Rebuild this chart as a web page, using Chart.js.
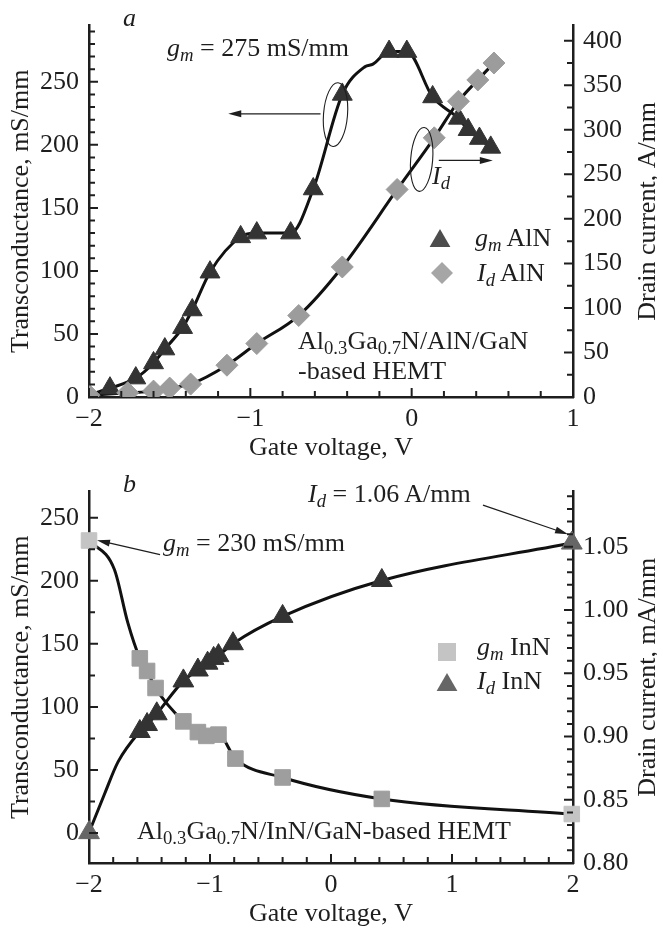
<!DOCTYPE html>
<html>
<head>
<meta charset="utf-8">
<script src="https://cdn.jsdelivr.net/npm/chart.js@4.4.0/dist/chart.umd.min.js"></script>
<style>
body { margin: 0; background: #fff; }
.panel { position: relative; width: 657px; }
#panelA { height: 466px; }
#panelB { height: 462px; }
.note { position: absolute; font-family: 'Liberation Serif', 'Times New Roman', serif; font-size: 26px;
        line-height: 26px; color: #1e1e1e; white-space: nowrap; }
.note sub { font-size: 0.72em; vertical-align: -0.28em; line-height: 0; }
</style>
</head>
<body>
<div class="panel" id="panelA">
  <canvas id="chartA" width="657" height="466"></canvas>
  <div class="note" style="left:123px; top:5px;"><i>a</i></div>
  <div class="note" style="left:167px; top:35px;"><i>g<sub>m</sub></i> = 275 mS/mm</div>
  <div class="note" style="left:432px; top:163px;"><i>I<sub>d</sub></i></div>
  <div class="note" style="left:475px; top:225px;"><i>g<sub>m</sub></i> AlN</div>
  <div class="note" style="left:477px; top:260px;"><i>I<sub>d</sub></i> AlN</div>
  <div class="note" style="left:298px; top:328px;">Al<sub>0.3</sub>Ga<sub>0.7</sub>N/AlN/GaN</div>
  <div class="note" style="left:298px; top:358px;">-based HEMT</div>
</div>
<div class="panel" id="panelB">
  <canvas id="chartB" width="657" height="462"></canvas>
  <div class="note" style="left:123px; top:5px;"><i>b</i></div>
  <div class="note" style="left:308px; top:15px;"><i>I<sub>d</sub></i> = 1.06 A/mm</div>
  <div class="note" style="left:163px; top:64px;"><i>g<sub>m</sub></i> = 230 mS/mm</div>
  <div class="note" style="left:477px; top:168px;"><i>g<sub>m</sub></i> InN</div>
  <div class="note" style="left:477px; top:202px;"><i>I<sub>d</sub></i> InN</div>
  <div class="note" style="left:137px; top:352px;">Al<sub>0.3</sub>Ga<sub>0.7</sub>N/InN/GaN-based HEMT</div>
</div>
<script>
// ---- Panel a: AlN
const aGmX = [-1.87, -1.71, -1.60, -1.53, -1.42, -1.36, -1.25, -1.06, -0.96, -0.75, -0.61, -0.43, -0.14, -0.03, 0.13, 0.29, 0.35, 0.42, 0.49];
const aGmY = [7, 15, 27, 38, 55, 69, 99, 127, 130, 130, 165, 240, 274, 274, 238, 221, 212, 205, 198];
// puntos de la curva sin marcador
const aGmCurveX = [-1.97, -0.29, -0.24];
const aGmCurveY = [3, 262, 264];
const aIdX = [-2.0, -1.76, -1.60, -1.50, -1.37, -1.145, -0.96, -0.70, -0.43, -0.09, 0.14, 0.29, 0.41, 0.51];
const aIdY = [2, 4.7, 6.6, 10, 14.5, 35.7, 60, 91.5, 146, 233, 291, 332, 356, 375];
const aXTicks = [-2, -1, 0, 1];
const aLeftTicks = [0, 50, 100, 150, 200, 250];
const aRightTicks = [0, 50, 100, 150, 200, 250, 300, 350, 400];

// ---- Panel b: InN
const bGmX = [-2.0, -1.58, -1.52, -1.45, -1.22, -1.10, -1.03, -0.93, -0.79, -0.40, 0.42, 1.99];
const bGmY = [232, 138.5, 128.5, 115, 88.5, 80, 77, 78, 59, 44, 27, 15];
const bGmCurveX = [-1.79, -1.68];
const bGmCurveY = [209, 167];
const bIdX = [-2.0, -1.58, -1.52, -1.44, -1.22, -1.10, -1.02, -0.97, -0.93, -0.81, -0.40, 0.42, 1.99];
const bIdY = [0.824, 0.904, 0.9095, 0.918, 0.944, 0.9526, 0.958, 0.9618, 0.964, 0.9734, 0.995, 1.0234, 1.053];
const bIdCurveX = [-1.87, -1.76];
const bIdCurveY = [0.855, 0.880];
const bXTicks = [-2, -1, 0, 1, 2];
const bLeftTicks = [0, 50, 100, 150, 200, 250];
const bRightTicks = [0.80, 0.85, 0.90, 0.95, 1.00, 1.05];

const SERIF = "'Liberation Serif', 'Times New Roman', serif";
const INK = '#1e1e1e';
Chart.defaults.font.family = SERIF;
Chart.defaults.font.size = 26;
Chart.defaults.color = INK;

function points(xs, ys) {
    return xs.map((x, i) => ({ x: x, y: ys[i] }));
}

function curve(xs, ys, ex, ey) {
    return points(xs, ys).concat(points(ex, ey)).sort((p, q) => p.x - q.x);
}

function fmtX(v) {
    return v < 0 ? '\u2212' + Math.abs(v) : String(v);
}

function curveDataset(data, axis) {
    return {
        data: data, yAxisID: axis, showLine: true, borderColor: '#111', borderWidth: 3,
        pointRadius: 0, cubicInterpolationMode: 'monotone', order: 2
    };
}

function markerDataset(data, axis, style, radius, color, endColor, clip) {
    return {
        data: data, yAxisID: axis, showLine: false, pointStyle: style, pointRadius: radius,
        pointBackgroundColor: c => (endColor && (c.dataIndex === 0 || c.dataIndex === data.length - 1)) ? endColor : color,
        pointBorderColor: c => (endColor && (c.dataIndex === 0 || c.dataIndex === data.length - 1)) ? endColor : color,
        pointBorderWidth: 1, clip: clip, order: 1
    };
}

// Dibuja un marcador simple (leyenda)
function marker(ctx, style, x, y, r, color) {
    ctx.save();
    ctx.fillStyle = color;
    ctx.beginPath();
    if (style === 'triangle') {
        ctx.moveTo(x, y - r);
        ctx.lineTo(x + r * 0.866, y + r * 0.5);
        ctx.lineTo(x - r * 0.866, y + r * 0.5);
    } else if (style === 'rectRot') {
        ctx.moveTo(x, y - r); ctx.lineTo(x + r, y); ctx.lineTo(x, y + r); ctx.lineTo(x - r, y);
    } else {
        ctx.rect(x - r, y - r, 2 * r, 2 * r);
    }
    ctx.closePath();
    ctx.fill();
    ctx.restore();
}

function arrow(ctx, x1, y1, x2, y2) {
    const a = Math.atan2(y2 - y1, x2 - x1);
    ctx.save();
    ctx.strokeStyle = INK; ctx.fillStyle = INK; ctx.lineWidth = 1.2;
    ctx.beginPath(); ctx.moveTo(x1, y1); ctx.lineTo(x2 - 10 * Math.cos(a), y2 - 10 * Math.sin(a)); ctx.stroke();
    ctx.beginPath();
    ctx.moveTo(x2, y2);
    ctx.lineTo(x2 - 13 * Math.cos(a) + 3.5 * Math.sin(a), y2 - 13 * Math.sin(a) - 3.5 * Math.cos(a));
    ctx.lineTo(x2 - 13 * Math.cos(a) - 3.5 * Math.sin(a), y2 - 13 * Math.sin(a) + 3.5 * Math.cos(a));
    ctx.closePath(); ctx.fill();
    ctx.restore();
}

function ellipse(ctx, x, y, rx, ry, rot) {
    ctx.save();
    ctx.strokeStyle = INK; ctx.lineWidth = 1.1;
    ctx.beginPath(); ctx.ellipse(x, y, rx, ry, rot, 0, Math.PI * 2); ctx.stroke();
    ctx.restore();
}

// Marcas hacia dentro, títulos de ejes y anotaciones
const framePlugin = {
    id: 'frame',
    afterDraw(chart, args, opts) {
        const ctx = chart.ctx;
        const area = chart.chartArea;
        const sx = chart.scales.x, sl = chart.scales.y, sr = chart.scales.y2;
        ctx.save();
        ctx.strokeStyle = INK;
        ctx.lineWidth = 2;
        function ticks(scale, step, major, draw) {
            const first = Math.ceil(scale.min / step - 1e-6);
            const last = Math.floor(scale.max / step + 1e-6);
            for (let i = first; i <= last; i++) {
                const v = i * step;
                const isMajor = Math.abs(v / major - Math.round(v / major)) < 1e-6;
                draw(scale.getPixelForValue(v), isMajor ? 9 : 6);
            }
        }
        ctx.beginPath();
        ticks(sl, opts.leftStep, opts.leftMajor, (p, len) => { ctx.moveTo(area.left, p); ctx.lineTo(area.left + len, p); });
        ticks(sr, opts.rightStep, opts.rightMajor, (p, len) => { ctx.moveTo(area.right, p); ctx.lineTo(area.right - len, p); });
        ticks(sx, 0.2, 1, (p, len) => { ctx.moveTo(p, area.bottom); ctx.lineTo(p, area.bottom - len); });
        ctx.stroke();

        // títulos
        ctx.fillStyle = INK;
        ctx.font = '26px ' + SERIF;
        ctx.textAlign = 'center';
        ctx.textBaseline = 'alphabetic';
        const midY = (area.top + area.bottom) / 2;
        ctx.fillText('Gate voltage, V', (area.left + area.right) / 2, area.bottom + 58);
        ctx.save(); ctx.translate(28, midY); ctx.rotate(-Math.PI / 2);
        ctx.fillText('Transconductance, mS/mm', 0, 0); ctx.restore();
        ctx.save(); ctx.translate(655, midY); ctx.rotate(-Math.PI / 2);
        ctx.fillText(opts.rightTitle, 0, 0); ctx.restore();
        ctx.restore();

        opts.extras(ctx, sx, sl, sr);
    }
};

function makeChart(id, height, datasets, cfg) {
    return new Chart(document.getElementById(id), {
        type: 'scatter',
        data: { datasets: datasets },
        options: {
            responsive: false,
            animation: false,
            layout: { padding: { top: 14, left: 0, right: 0, bottom: 0 } },
            plugins: {
                legend: { display: false },
                tooltip: { enabled: false },
                frame: cfg.frame
            },
            scales: {
                x: {
                    type: 'linear', min: cfg.xMin, max: cfg.xMax,
                    grid: { display: false, drawTicks: false },
                    border: { display: true, color: INK, width: 2.5 },
                    ticks: { padding: 7, callback: fmtX },
                    afterBuildTicks: s => { s.ticks = cfg.xTicks.map(v => ({ value: v })); },
                    afterFit: s => { s.height = height - 397; }
                },
                y: {
                    position: 'left', min: cfg.yMin, max: cfg.yMax,
                    grid: { display: false, drawTicks: false },
                    border: { display: true, color: INK, width: 2.5 },
                    ticks: { padding: 10 },
                    afterBuildTicks: s => { s.ticks = cfg.leftTicks.map(v => ({ value: v })); },
                    afterFit: s => { s.width = 89; }
                },
                y2: {
                    position: 'right', min: cfg.y2Min, max: cfg.y2Max,
                    grid: { display: false, drawTicks: false },
                    border: { display: true, color: INK, width: 2.5 },
                    ticks: { padding: 10, callback: cfg.rightFmt },
                    afterBuildTicks: s => { s.ticks = cfg.rightTicks.map(v => ({ value: v })); },
                    afterFit: s => { s.width = 84; }
                }
            }
        },
        plugins: [framePlugin]
    });
}

// ---- Panel a
makeChart('chartA', 466, [
    curveDataset(curve(aGmX, aGmY, aGmCurveX, aGmCurveY), 'y'),
    curveDataset(curve(aIdX, aIdY, [], []), 'y2'),
    markerDataset(points(aIdX, aIdY), 'y2', 'rectRot', 11, '#9c9c9c', null, 0),
    markerDataset(points(aGmX, aGmY), 'y', 'triangle', 11.5, '#333333', null, false)
], {
    xMin: -2, xMax: 1, yMin: 0, yMax: 294.6, y2Min: 0, y2Max: 417,
    xTicks: aXTicks, leftTicks: aLeftTicks, rightTicks: aRightTicks,
    rightFmt: v => String(v),
    frame: {
        leftStep: 10, leftMajor: 50, rightStep: 25, rightMajor: 50, rightTitle: 'Drain current, A/mm',
        extras: (ctx, sx, sl, sr) => {
            ellipse(ctx, sx.getPixelForValue(-0.472), sl.getPixelForValue(224), 12, 32, 0.08);
            arrow(ctx, sx.getPixelForValue(-0.565), sl.getPixelForValue(224.6), sx.getPixelForValue(-1.137), sl.getPixelForValue(224.6));
            ellipse(ctx, sx.getPixelForValue(0.062), sr.getPixelForValue(266.7), 11, 32, 0.08);
            arrow(ctx, sx.getPixelForValue(0.168), sr.getPixelForValue(265.6), sx.getPixelForValue(0.503), sr.getPixelForValue(265.6));
            marker(ctx, 'triangle', 440, 241, 12, '#4d4d4d');
            marker(ctx, 'rectRot', 442, 273, 11, '#a6a6a6');
        }
    }
});

// ---- Panel b
makeChart('chartB', 462, [
    curveDataset(curve(bGmX, bGmY, bGmCurveX, bGmCurveY), 'y'),
    curveDataset(curve(bIdX, bIdY, bIdCurveX, bIdCurveY), 'y2'),
    markerDataset(points(bGmX, bGmY), 'y', 'rect', 11, '#9e9e9e', '#c4c4c4', false),
    markerDataset(points(bIdX, bIdY), 'y2', 'triangle', 12, '#333333', '#666666', false)
], {
    xMin: -2, xMax: 2, yMin: -23.85, yMax: 270.8, y2Min: 0.80, y2Max: 1.0937,
    xTicks: bXTicks, leftTicks: bLeftTicks, rightTicks: bRightTicks,
    rightFmt: v => v.toFixed(2),
    frame: {
        leftStep: 25, leftMajor: 50, rightStep: 0.01, rightMajor: 0.05, rightTitle: 'Drain current, mA/mm',
        extras: (ctx, sx, sl, sr) => {
            arrow(ctx, sx.getPixelForValue(-1.413), sl.getPixelForValue(220.8), sx.getPixelForValue(-1.934), sl.getPixelForValue(232.3));
            arrow(ctx, sx.getPixelForValue(1.256), sr.getPixelForValue(1.083), sx.getPixelForValue(1.959), sr.getPixelForValue(1.060));
            marker(ctx, 'rect', 447, 186, 9, '#c4c4c4');
            marker(ctx, 'triangle', 447, 219, 12, '#666666');
        }
    }
});
</script>
</body>
</html>
